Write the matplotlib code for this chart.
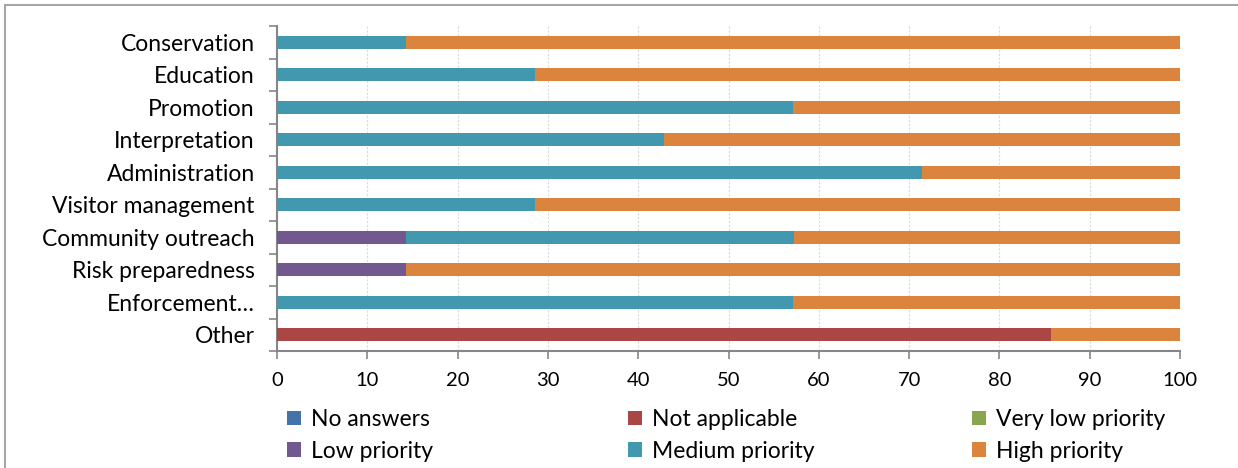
import matplotlib
matplotlib.use("Agg")
import matplotlib.pyplot as plt
from matplotlib.patches import Rectangle, Patch
import numpy as np

plt.rcParams['font.family'] = ['Lato', 'DejaVu Sans']

categories = ["Conservation", "Education", "Promotion", "Interpretation", "Administration",
              "Visitor management", "Community outreach", "Risk preparedness",
              "Enforcement…", "Other"]
series_names = ["No answers", "Not applicable", "Very low priority",
                "Low priority", "Medium priority", "High priority"]
no_answers = [0, 0, 0, 0, 0, 0, 0, 0, 0, 0]
not_applicable = [0, 0, 0, 0, 0, 0, 0, 0, 0, 85.7]
very_low = [0, 0, 0, 0, 0, 0, 0, 0, 0, 0]
low = [0, 0, 0, 0, 0, 0, 14.3, 14.3, 0, 0]
medium = [14.3, 28.6, 57.1, 42.9, 71.4, 28.6, 42.9, 0, 57.1, 0]
high = [85.7, 71.4, 42.9, 57.1, 28.6, 71.4, 42.8, 85.7, 42.9, 14.3]
colors = ["#4572A7", "#AA4643", "#89A54E", "#71588F", "#4198AF", "#DB843D"]
xticks = [0, 10, 20, 30, 40, 50, 60, 70, 80, 90, 100]

W, H = 1238, 468
fig = plt.figure(figsize=(W / 100, H / 100), dpi=100)
fig.patches.append(Rectangle((5 / W, -0.1), 1.2, 1 - 5 / H + 0.1, transform=fig.transFigure,
                             fill=False, edgecolor="#A6A6A6", linewidth=1.5))
ax = fig.add_axes([277 / W, 1 - 351 / H, (1180 - 277) / W, (351 - 26) / H])

y = np.arange(len(categories))
left = np.zeros(len(categories))
all_series = [no_answers, not_applicable, very_low, low, medium, high]
for name, vals, c in zip(series_names, all_series, colors):
    vals = np.array(vals, dtype=float)
    ax.barh(y, vals, left=left, height=0.4, color=c, label=name, zorder=3)
    left += vals

ax.set_xlim(0, 100)
ax.set_ylim(len(categories) - 0.5, -0.5)
ax.set_xticks(xticks)
ax.set_xticklabels([str(t) for t in xticks], fontsize=14.5)
ax.set_yticks(y)
ax.set_yticklabels(categories, fontsize=16.5)
ax.set_yticks(np.arange(-0.5, len(categories), 1), minor=True)
ax.tick_params(axis='y', which='major', length=0, pad=16)
ax.tick_params(axis='y', which='minor', length=6, color="#868686", width=1.2, direction='out')
ax.tick_params(axis='x', which='major', length=6, color="#868686", width=1.2, direction='out', pad=9)
ax.grid(axis='x', color="#DADADA", linestyle=(0, (2, 1.5)), linewidth=0.8, zorder=0)
for s in ["top", "right"]:
    ax.spines[s].set_visible(False)
for s in ["left", "bottom"]:
    ax.spines[s].set_color("#868686")
    ax.spines[s].set_linewidth(1.5)

handles = [Patch(facecolor=c, edgecolor='none') for c in colors]
col_x = [287, 628, 972]
for i in range(3):
    fig.legend([handles[i], handles[i + 3]], [series_names[i], series_names[i + 3]],
               loc='upper left', bbox_to_anchor=(col_x[i] / W, 1 - 409 / H),
               frameon=False, fontsize=16.5, handlelength=0.6, handleheight=0.6,
               handletextpad=0.45, labelspacing=0.47, borderaxespad=0, borderpad=0)

fig.savefig("out.png", dpi=100)
